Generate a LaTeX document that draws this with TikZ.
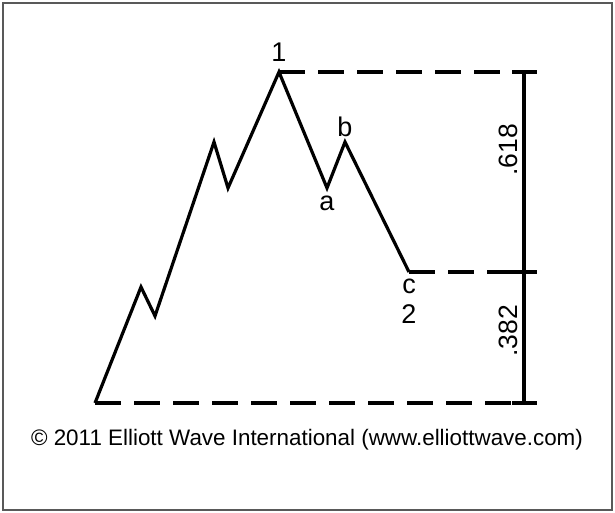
\documentclass[tikz,border=0pt]{standalone}
\usepackage{fontspec}
\setmainfont{Liberation Sans}
\begin{document}
\begin{tikzpicture}[x=1pt,y=-1pt,
  wave/.style={line width=3.2pt,line join=miter},
  guide/.style={line width=3.2pt,dash pattern=on 26pt off 13pt},
  ruler/.style={line width=3.2pt},
  lbl/.style={font=\fontsize{27}{27}\selectfont,inner sep=0pt,anchor=base},
  frac/.style={font=\fontsize{26.5}{26.5}\selectfont,inner sep=0pt,rotate=90}]
\useasboundingbox (0,0) rectangle (615,513);
\draw[gray!70!black,line width=1.2pt] (3,3) rectangle (612,510);
% wave points
\coordinate (s) at (95,403);
\coordinate (p1) at (141,287);
\coordinate (p2) at (155,316);
\coordinate (p3) at (214,142);
\coordinate (p4) at (228,188);
\coordinate (top) at (279,72);
\coordinate (a) at (327,188);
\coordinate (b) at (345,142);
\coordinate (c) at (409,272);
% ruler coordinates
\coordinate (vt) at (524,72);
\coordinate (vm) at (524,272);
\coordinate (vb) at (524,403);
\draw[wave] (s) -- (p1) -- (p2) -- (p3) -- (p4) -- (top) -- (a) -- (b) -- (c);
\draw[guide] (top) -- (vt);
\draw[guide] (c) -- (vm);
\draw[guide] (s) -- (vb);
\draw[ruler] (vt) -- (vb);
\draw[ruler] ([xshift=-12pt]vt) -- ([xshift=13pt]vt);
\draw[ruler] ([xshift=-12pt]vm) -- ([xshift=13pt]vm);
\draw[ruler] ([xshift=-12pt]vb) -- ([xshift=13pt]vb);
\node[lbl] (l1) at (279,62) {1};
\node[lbl] (la) at (327,210) {a};
\node[lbl] (lb) at (345,137) {b};
\node[lbl] (lc) at (409,293) {c};
\node[lbl] (l2) at (409,323) {2};
\node[frac] (f1) at (508,150) {.618};
\node[frac] (f2) at (508,331) {.382};
\node[font=\fontsize{22.4}{22.4}\selectfont,inner sep=0pt] (copy) at (307,440) {© 2011 Elliott Wave International (www.elliottwave.com)};
\end{tikzpicture}
\end{document}
